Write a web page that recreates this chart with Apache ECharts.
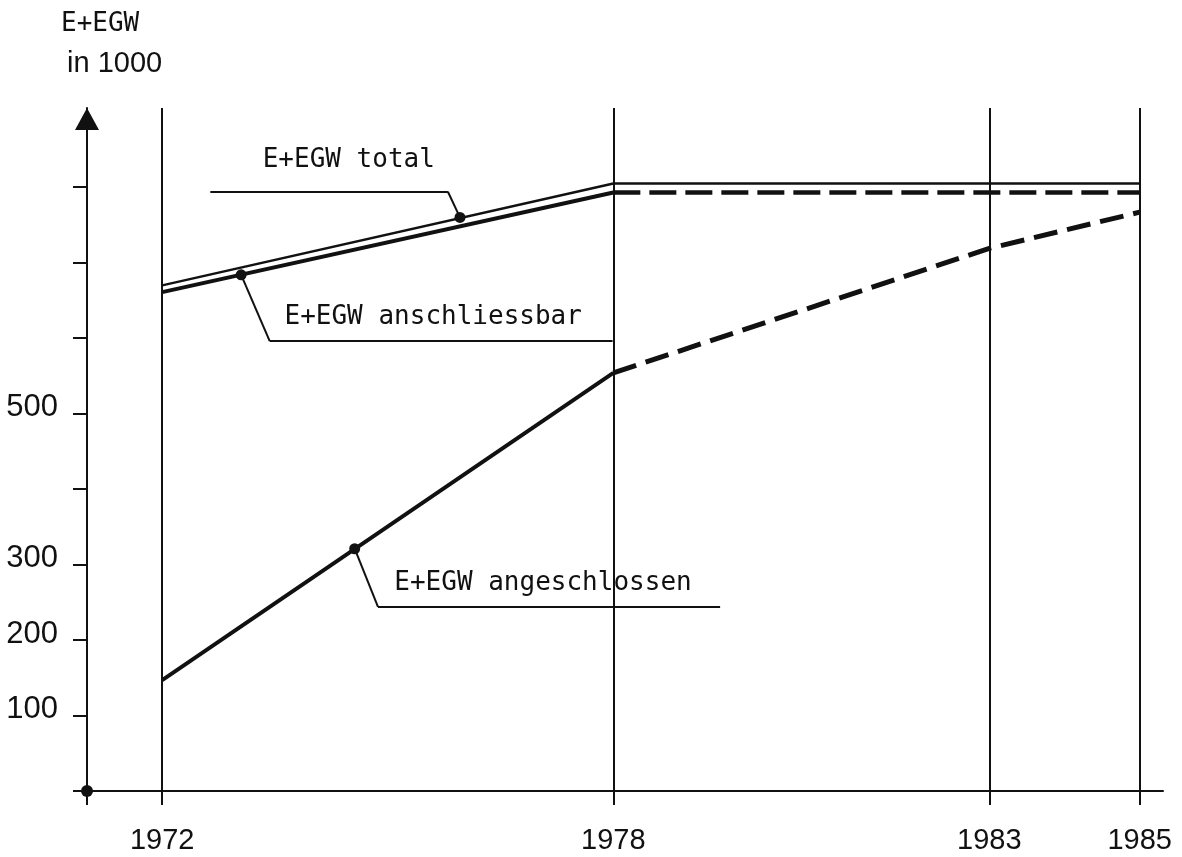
<!DOCTYPE html>
<html>
<head>
<meta charset="utf-8">
<script src="https://cdn.jsdelivr.net/npm/echarts@6/dist/echarts.min.js"></script>
<style>
html, body { margin: 0; padding: 0; background: #fff; }
#main { width: 1182px; height: 857px; }
</style>
</head>
<body>
<div id="main"></div>
<script>
// based on prepared DOM, initialize echarts instance
var myChart = echarts.init(document.getElementById('main'));

// data (in 1000)
var years = [1972, 1978, 1983, 1985];
var total = [670, 805, 805, 805];
var anschliessbar = [661, 793, 793, 793];
var angeschlossen = [147, 554, 719, 767];

var yLabelValues = [100, 200, 300, 500];
var yTickValues = [0, 100, 200, 300, 400, 500, 600, 700, 800];
var xTickValues = [1971, 1972, 1978, 1983, 1985];

// callouts: dot on the line, elbow, end of the leader, text anchor
var calloutNames = ['E+EGW total', 'E+EGW anschliessbar', 'E+EGW angeschlossen'];
var calloutDots = [[1975.96, 760], [1973.05, 684], [1974.56, 321]];
var calloutElbows = [[1975.8, 794], [1973.43, 596], [1974.87, 244]];
var calloutEnds = [[1972.64, 794], [1977.99, 596], [1979.42, 244]];
var calloutText = [[1973.33, 836], [1973.62, 628], [1975.08, 275]];

var ink = '#111';
var mono = "'DejaVu Sans Mono', monospace";
var sans = "'Liberation Sans Narrow', 'Liberation Sans', sans-serif";

function pts(vals, from, to) {
    var out = [];
    for (var i = from; i <= to; i++) out.push([years[i], vals[i]]);
    return out;
}

function callout(i) {
    return {
        lines: [
            [{coord: calloutDots[i]}, {coord: calloutElbows[i]}],
            [{coord: calloutElbows[i]}, {coord: calloutEnds[i]}]
        ],
        points: [
            {coord: calloutDots[i], symbol: 'circle', symbolSize: 11, label: {show: false}},
            {coord: calloutText[i], name: calloutNames[i], symbol: 'rect', symbolSize: 1,
             itemStyle: {color: 'rgba(0,0,0,0)'},
             label: {show: true, position: 'right', distance: 0, formatter: '{b}',
                     color: ink, fontFamily: mono, fontSize: 26}}
        ]
    };
}

var c0 = callout(0), c1 = callout(1), c2 = callout(2);

var leaderStyle = {color: ink, width: 2, type: 'solid'};

option = {
    backgroundColor: '#fff',
    animation: false,
    title: [
        {text: 'E+EGW', left: 61, top: 9, padding: 0,
         textStyle: {fontFamily: mono, fontSize: 26, fontWeight: 'normal', color: ink, lineHeight: 30}},
        {text: 'in 1000', left: 67, top: 49, padding: 0,
         textStyle: {fontFamily: sans, fontSize: 29, fontWeight: 'normal', color: ink, lineHeight: 30}}
    ],
    grid: {left: 87, right: 19, top: 108, bottom: 66, containLabel: false},
    xAxis: {
        type: 'value',
        min: 1971,
        max: 1985.31,
        axisLine: {onZero: false, lineStyle: {color: ink, width: 2}},
        axisTick: {show: true, customValues: xTickValues, length: 14, lineStyle: {color: ink, width: 2}},
        axisLabel: {customValues: years, margin: 35, color: ink, fontFamily: sans, fontSize: 29, lineHeight: 29,
                    formatter: function (v) { return String(v); }},
        splitLine: {show: false}
    },
    yAxis: {
        type: 'value',
        min: 0,
        max: 905,
        axisLine: {show: true, onZero: false, symbol: ['none', 'triangle'], symbolSize: [24, 22],
                   symbolOffset: [0, -11], lineStyle: {color: ink, width: 2}},
        axisTick: {show: true, customValues: yTickValues, length: 14, lineStyle: {color: ink, width: 2}},
        axisLabel: {customValues: yLabelValues, margin: 29, color: ink, fontFamily: sans, fontSize: 31,
                    verticalAlign: 'bottom', lineHeight: 12},
        splitLine: {show: false}
    },
    series: [
        {
            name: 'E+EGW total',
            type: 'line',
            symbol: 'none',
            data: pts(total, 0, 3),
            lineStyle: {color: ink, width: 2.5},
            markLine: {
                silent: true, symbol: 'none', label: {show: false},
                lineStyle: {color: ink, width: 2, type: 'solid'},
                data: years.map(function (y) { return {xAxis: y}; })
            },
            markPoint: {
                silent: true,
                data: [{coord: [1971, 0], symbol: 'circle', symbolSize: 12, itemStyle: {color: ink}, label: {show: false}}]
                    .concat(c0.points),
                itemStyle: {color: ink}
            }
        },
        {
            name: 'E+EGW anschliessbar',
            type: 'line',
            symbol: 'none',
            data: pts(anschliessbar, 0, 1),
            lineStyle: {color: ink, width: 4},
            markLine: {silent: true, symbol: 'none', label: {show: false}, lineStyle: leaderStyle, data: c1.lines},
            markPoint: {silent: true, data: c1.points, itemStyle: {color: ink}}
        },
        {
            name: 'E+EGW anschliessbar (Prognose)',
            type: 'line',
            symbol: 'none',
            data: pts(anschliessbar, 1, 3),
            lineStyle: {color: ink, width: 4.5, type: [27, 9]}
        },
        {
            name: 'E+EGW angeschlossen',
            type: 'line',
            symbol: 'none',
            data: pts(angeschlossen, 0, 1),
            lineStyle: {color: ink, width: 4},
            markLine: {silent: true, symbol: 'none', label: {show: false}, lineStyle: leaderStyle, data: c2.lines},
            markPoint: {silent: true, data: c2.points, itemStyle: {color: ink}}
        },
        {
            name: 'E+EGW angeschlossen (Prognose)',
            type: 'line',
            symbol: 'none',
            data: pts(angeschlossen, 1, 3),
            lineStyle: {color: ink, width: 5, type: [24, 10]}
        },
        {
            name: 'total leader',
            type: 'line',
            symbol: 'none',
            data: [],
            markLine: {silent: true, symbol: 'none', label: {show: false}, lineStyle: leaderStyle, data: c0.lines}
        }
    ]
};

// use configuration item and data specified to show chart
myChart.setOption(option);
</script>
</body>
</html>
